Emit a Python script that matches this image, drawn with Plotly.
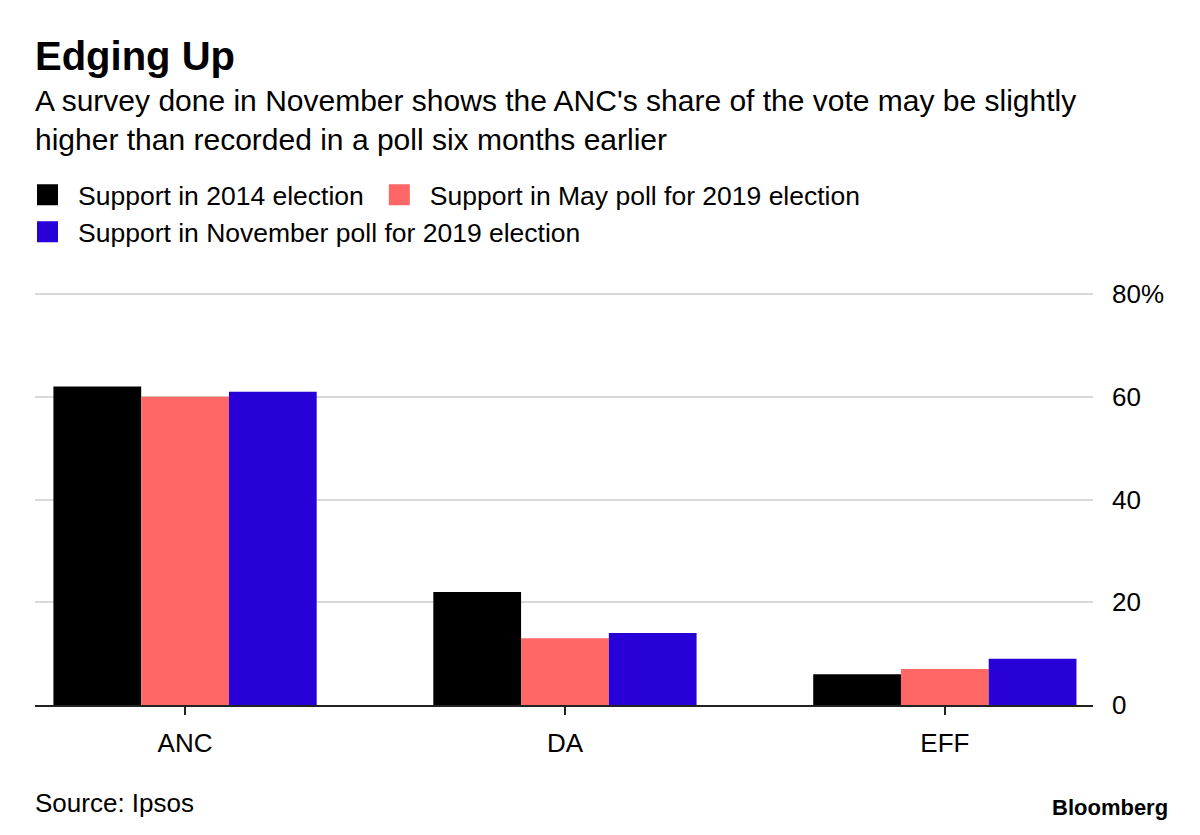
import plotly.graph_objects as go

categories = ["ANC", "DA", "EFF"]
support_2014 = [62, 22, 6]
support_may = [60, 13, 7]
support_nov = [61, 14, 9]
series_names = [
    "Support in 2014 election",
    "Support in May poll for 2019 election",
    "Support in November poll for 2019 election",
]
colors = ["#000000", "#FF6666", "#2800D8"]
legend_ids = ["legend", "legend", "legend2"]
y_tickvals = [0, 20, 40, 60, 80]
y_ticktext = ["0", "20", "40", "60", "80%"]

FONT = "Liberation Sans"
W, H = 1200, 835
L, R, T, B = 35, 107, 292, 130
plot_w = W - L - R
plot_h = H - T - B


def py(pix):
    return (H - B - pix) / plot_h


def px(pix):
    return (pix - L) / plot_w


fig = go.Figure()
for name, vals, col in zip(series_names, [support_2014, support_may, support_nov], colors):
    fig.add_trace(go.Bar(x=categories, y=vals, name=name, marker=dict(color=col, line=dict(width=0)),
                         showlegend=False))
for name, col, lg in zip(series_names, colors, legend_ids):
    fig.add_trace(go.Scatter(x=[None], y=[None], mode="markers", name=name, legend=lg,
                             marker=dict(symbol="square", size=16, color=col, line=dict(color=col, width=5))))

legend_common = dict(orientation="h", xanchor="left", yanchor="middle",
                     font=dict(size=26.5, family=FONT, color="#000000"), itemwidth=51,
                     itemsizing="trace", bgcolor="rgba(0,0,0,0)", traceorder="normal",
                     itemclick=False, itemdoubleclick=False)

fig.update_layout(
    width=W, height=H,
    margin=dict(l=L, r=R, t=T, b=B),
    paper_bgcolor="white", plot_bgcolor="white",
    font=dict(family=FONT, color="#000000", size=26),
    barmode="group", bargap=0.307, bargroupgap=0,
    showlegend=True,
    legend=dict(x=px(17), y=py(195), **legend_common),
    legend2=dict(x=px(17), y=py(232), **legend_common),
    xaxis=dict(range=[-0.395, 2.39], showgrid=False, showline=True, linecolor="#222222", linewidth=2,
               ticks="outside", ticklen=8, tickwidth=2, tickcolor="#222222", ticklabelstandoff=6,
               tickfont=dict(size=26, family=FONT), fixedrange=True),
    yaxis=dict(range=[0, 80.4], side="right", tickvals=y_tickvals, ticktext=y_ticktext,
               showgrid=True, gridcolor="#D9D9D9", gridwidth=2, zeroline=False, showline=False,
               ticks="", ticklabelstandoff=18, tickfont=dict(size=26, family=FONT), fixedrange=True),
)

fig.add_annotation(text="<b>Edging Up</b>", xref="paper", yref="paper", x=0, y=py(56),
                   xanchor="left", yanchor="middle", showarrow=False, xshift=-2,
                   font=dict(size=40, family=FONT, color="#000000"))
fig.add_annotation(text="A survey done in November shows the ANC's share of the vote may be slightly<br>higher than recorded in a poll six months earlier",
                   xref="paper", yref="paper", x=0, y=py(120), xanchor="left", yanchor="middle",
                   align="left", showarrow=False, xshift=-2,
                   font=dict(size=30, family=FONT, color="#000000"))
fig.add_annotation(text="Source: Ipsos", xref="paper", yref="paper", x=0, y=py(803),
                   xanchor="left", yanchor="middle", showarrow=False, xshift=-2,
                   font=dict(size=26, family=FONT, color="#000000"))
fig.add_annotation(text="<b>Bloomberg</b>", xref="paper", yref="paper", x=1, y=py(807),
                   xanchor="right", yanchor="middle", showarrow=False, xshift=77,
                   font=dict(size=22, family=FONT, color="#000000"))

fig.write_html("out.html")
